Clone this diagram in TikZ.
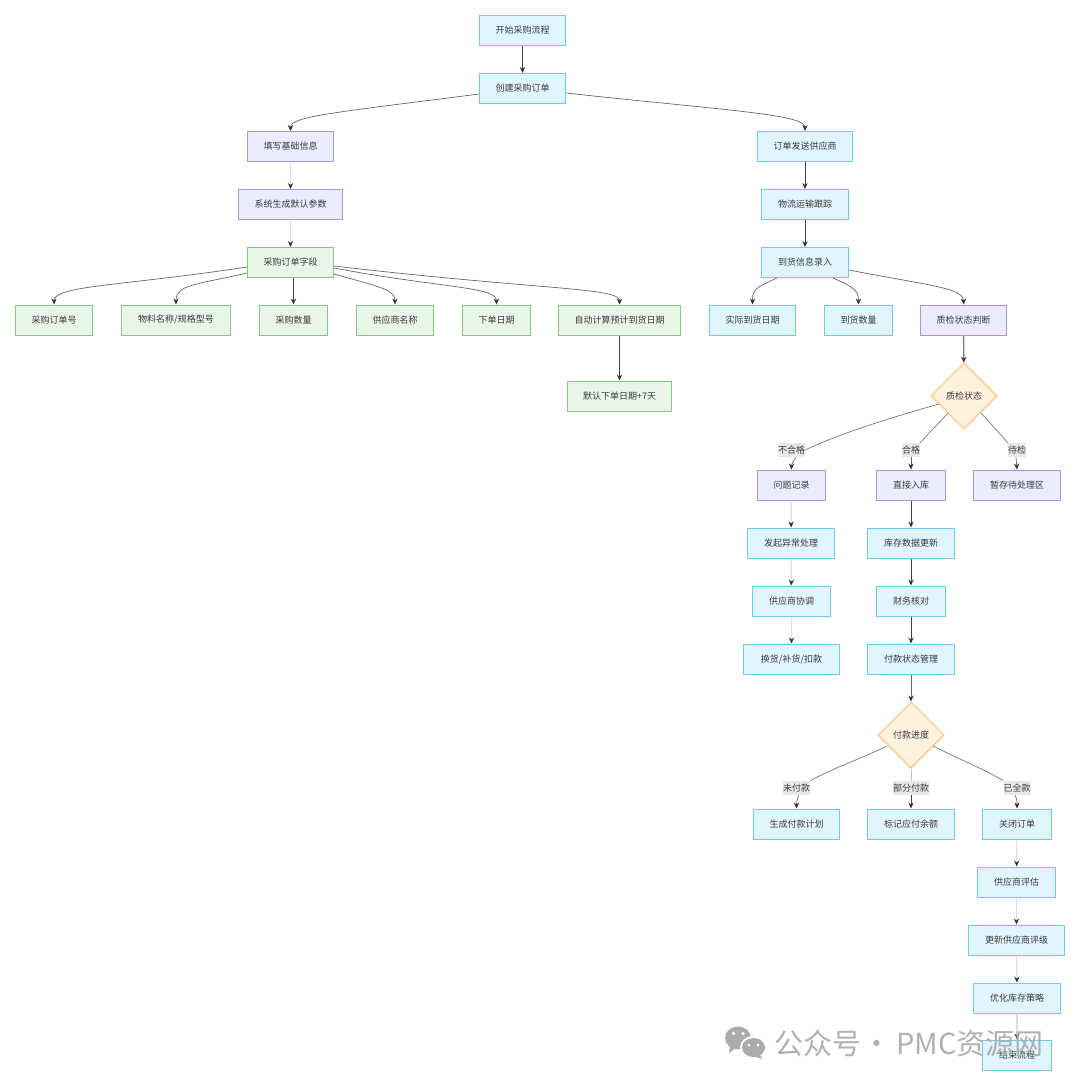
\documentclass[tikz,border=0pt]{standalone}
\usepackage{fontspec}
\setmainfont{Noto Sans CJK SC}
\usetikzlibrary{shapes.geometric,arrows.meta,calc}
\definecolor{bluefill}{HTML}{E1F5FE}
\definecolor{blueline}{HTML}{6CCBF5}
\definecolor{purplefill}{HTML}{ECECFF}
\definecolor{purpleline}{HTML}{AC94E2}
\definecolor{greenfill}{HTML}{E8F5E9}
\definecolor{greenline}{HTML}{85C788}
\definecolor{orangefill}{HTML}{FFF3E0}
\definecolor{orangeline}{HTML}{FFBE6A}
\definecolor{textgray}{HTML}{3A3A3A}
\definecolor{tipgray}{HTML}{333333}
\definecolor{markgray}{HTML}{ABABAB}
\tikzset{
  box/.style={draw,line width=.75pt,inner sep=0pt,minimum height=22.5pt,text=textgray,font=\fontsize{6.75pt}{8pt}\selectfont},
  wd/.style={minimum width=#1*0.75pt-0.75pt},
  bluebox/.style={box,fill=bluefill,draw=blueline},
  purplebox/.style={box,fill=purplefill,draw=purpleline},
  greenbox/.style={box,fill=greenfill,draw=greenline},
  choice/.style={diamond,draw=orangeline,fill=orangefill,line width=.75pt,inner sep=0pt,aspect=1,minimum width=49.5pt,minimum height=49.5pt,text=textgray,font=\fontsize{6.75pt}{8pt}\selectfont},
  tag/.style={fill=black!9,inner sep=0pt,minimum height=10.5pt,text=textgray,font=\fontsize{6.75pt}{8pt}\selectfont},
  link/.style={draw=black!75,line width=.75pt,-{Stealth[length=4.5pt,width=4pt,color=tipgray]}},
  thinlink/.style={draw=black!62,line width=.5pt,-{Stealth[length=4.5pt,width=4pt,color=tipgray]}},
  palelink/.style={draw=black!13,line width=.85pt,-{Stealth[length=4.5pt,width=4pt,color=tipgray]}},
  bare/.style={draw=black!55,line width=.5pt},
}
\begin{document}
\begin{tikzpicture}[x=.75pt,y=-.75pt]
\fill[white] (0,0) rectangle (1080,1086);
\useasboundingbox (0,0) rectangle (1080,1086);
\node[bluebox,wd=87] (start) at (522.5,30.5) {开始采购流程};
\node[bluebox,wd=87] (order) at (522.5,88.5) {创建采购订单};
\node[purplebox,wd=87] (fill) at (290.5,146.5) {填写基础信息};
\node[purplebox,wd=105] (sysgen) at (290.5,204.5) {系统生成默认参数};
\node[greenbox,wd=87] (fields) at (290.5,262.5) {采购订单字段};
\node[greenbox,wd=78] (orderno) at (54,320) {采购订单号};
\node[greenbox,wd=110] (material) at (176,320) {物料名称/规格型号};
\node[greenbox,wd=69] (amount) at (293.5,320) {采购数量};
\node[greenbox,wd=78] (vendor) at (395,320) {供应商名称};
\node[greenbox,wd=69] (orderdate) at (496.5,320) {下单日期};
\node[greenbox,wd=123] (autodate) at (619.5,320) {自动计算预计到货日期};
\node[greenbox,wd=105] (default) at (619.5,396) {默认下单日期+7天};
\node[bluebox,wd=96] (send) at (805,146.5) {订单发送供应商};
\node[bluebox,wd=88] (track) at (805,204.5) {物流运输跟踪};
\node[bluebox,wd=88] (arrive) at (805,262.5) {到货信息录入};
\node[bluebox,wd=87] (actual) at (752.5,320) {实际到货日期};
\node[bluebox,wd=69] (qty) at (858.5,320) {到货数量};
\node[purplebox,wd=87] (qcjudge) at (963.5,320) {质检状态判断};
\node[choice] (qc) at (964,396) {质检状态};
\node[tag,minimum width=20.25pt] (bad) at (791.5,450) {不合格};
\node[tag,minimum width=13.5pt] (good) at (911,450) {合格};
\node[tag,minimum width=13.5pt] (wait) at (1017,450) {待检};
\node[purplebox,wd=69] (issue) at (791.5,485) {问题记录};
\node[purplebox,wd=70] (direct) at (911,485) {直接入库};
\node[purplebox,wd=88] (hold) at (1017,485) {暂存待处理区};
\node[bluebox,wd=88] (except) at (791,543) {发起异常处理};
\node[bluebox,wd=79] (talk) at (791.5,601) {供应商协调};
\node[bluebox,wd=97] (swap) at (791.5,659) {换货/补货/扣款};
\node[bluebox,wd=88] (stock) at (911,543) {库存数据更新};
\node[bluebox,wd=70] (finance) at (911,601) {财务核对};
\node[bluebox,wd=88] (paystate) at (911,659) {付款状态管理};
\node[choice] (pay) at (911,735) {付款进度};
\node[tag,minimum width=20.25pt] (unpaid) at (796.5,788) {未付款};
\node[tag,minimum width=27pt] (part) at (911,788) {部分付款};
\node[tag,minimum width=20.25pt] (paid) at (1017,788) {已全款};
\node[bluebox,wd=87] (plan) at (796.5,824) {生成付款计划};
\node[bluebox,wd=88] (balance) at (911,824) {标记应付余额};
\node[bluebox,wd=70] (close) at (1017,824) {关闭订单};
\node[bluebox,wd=79] (rate) at (1016.5,882) {供应商评估};
\node[bluebox,wd=97] (grade) at (1016.5,940) {更新供应商评级};
\node[bluebox,wd=88] (optimize) at (1017,998) {优化库存策略};
\node[bluebox,wd=70] (finish) at (1017,1055) {结束流程};

\draw[link] (start)--(order);
\draw[thinlink] ($(order.west)+(0,5.5)$) .. controls +(-139,18) and +(0,-15) .. (fill.north);
\draw[thinlink] ($(order.east)+(0,4.5)$) .. controls +(154,17) and +(0,-17) .. (send.north);
\draw[palelink] (fill)--(sysgen);
\draw[palelink] (sysgen)--(fields);
\draw[thinlink] ($(fields.west)+(0,4.5)$) .. controls +(-125,19) and +(0,-19) .. (orderno.north);
\draw[thinlink] ($(fields.west)+(0,10.5)$) .. controls +(-52,12) and +(0,-20) .. (material.north);
\draw[link] (fields.south -| amount.north)--(amount.north);
\draw[thinlink] ($(fields.east)+(0,11.5)$) .. controls +(46,13) and +(0,-15) .. (vendor.north);
\draw[thinlink] ($(fields.east)+(0,5.5)$) .. controls +(106,20) and +(0,-18) .. (orderdate.north);
\draw[thinlink] ($(fields.east)+(0,3.5)$) .. controls +(206,24) and +(0,-17) .. (autodate.north);
\draw[link] (autodate)--(default);
\draw[link] (send)--(track);
\draw[link] (track)--(arrive);
\draw[thinlink] ($(arrive.south)+(-28,0)$) .. controls +(-22,10) and +(0,-15) .. (actual.north);
\draw[thinlink] ($(arrive.south)+(28,0)$) .. controls +(23,10) and +(0,-13) .. (qty.north);
\draw[thinlink] ($(arrive.east)+(0,7.5)$) .. controls +(76,15) and +(0,-17) .. (qcjudge.north);
\draw[link,draw=black!50,line width=1pt] (qcjudge)--(qc);
\draw[bare] ($(qc)+(-25,8)$) .. controls +(-39,11) and +(35,-17) .. (bad.east);
\draw[bare] ($(qc)+(-16,17)$) .. controls +(-11,12) and +(7,-8) .. (good.north east);
\draw[bare] ($(qc)+(17,17)$) .. controls +(10,11) and +(-7,-8) .. (wait.north west);
\draw[thinlink] ($(bad.south)+(4.5,0)$) .. controls +(-2,3) and +(0,-6) .. (issue.north);
\draw[thinlink] (good.south)--(direct.north);
\draw[thinlink] ($(wait.south)+(-1,0)$)--(hold.north);
\draw[palelink] (issue)--(except);
\draw[palelink] (except)--(talk);
\draw[palelink] (talk)--(swap);
\draw[link] (direct)--(stock);
\draw[link] (stock)--(finance);
\draw[link] (finance)--(paystate);
\draw[link,draw=black!60] (paystate)--(pay);
\draw[bare] ($(pay)+(-24,11)$) .. controls +(-31,15) and +(21,-12) .. (unpaid.north east);
\draw[bare,draw=black!25] (pay.south)--(part.north);
\draw[bare] ($(pay)+(22,11)$) .. controls +(32,16) and +(-20,-12) .. (paid.north west);
\draw[thinlink] ($(unpaid.south)+(2,0)$) .. controls +(-1,4) and +(0,-8) .. (plan.north);
\draw[link] (part.south)--(balance.north);
\draw[thinlink] ($(paid.south)+(-2,0)$) .. controls +(2,4) and +(0,-8) .. (close.north);
\draw[palelink] (close)--(rate);
\draw[palelink] (rate)--(grade);
\draw[palelink] (grade)--(optimize);
\draw[palelink] (optimize)--(finish);

% watermark
\fill[markgray] (738,1038) ellipse (13 and 11.5);
\fill[markgray] (730,1046)--(729,1053)--(736,1048)--cycle;
\fill[white] (753.5,1047.5) ellipse (13.5 and 11.5);
\fill[markgray] (753.5,1047.5) ellipse (11.5 and 9.5);
\fill[markgray] (759,1053)--(762,1059)--(753,1056)--cycle;
\fill[white] (733.5,1033.5) circle (1.8) (743,1033.5) circle (1.8);
\fill[white] (749,1045) circle (1.5) (758,1045) circle (1.5);
\node[text=markgray,opacity=.92,inner sep=0pt,anchor=west,font=\fontsize{21.75pt}{24pt}\selectfont] (mark) at (774,1043) {公众号 \kern-3.75pt· \kern-1.5pt PMC资源网};
\end{tikzpicture}
\end{document}
